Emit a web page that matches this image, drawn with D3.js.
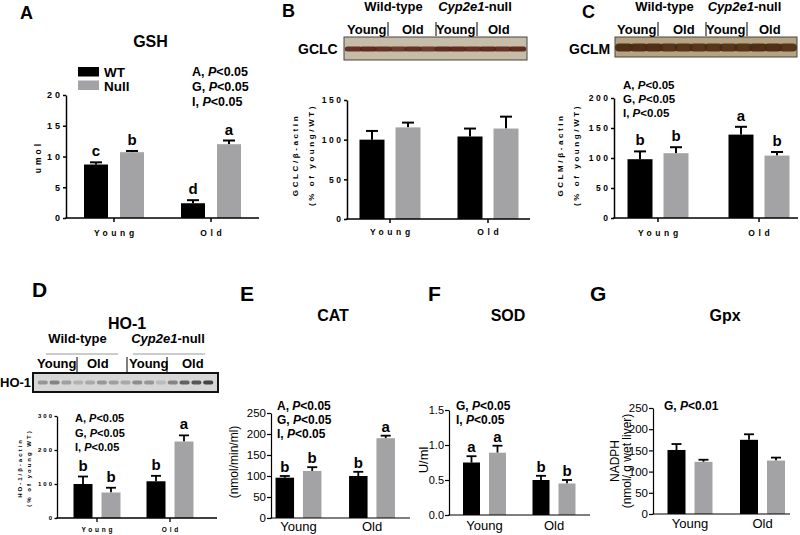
<!DOCTYPE html>
<html><head><meta charset="utf-8">
<script src="https://cdn.jsdelivr.net/npm/d3@7"></script>
<style>
body{margin:0;background:#fff}
svg{display:block}
text{font-family:Arial,"Liberation Sans",Helvetica,sans-serif}
</style>
</head><body>
<svg id="chart" width="800" height="535"></svg>
<script>
// ---------------- DATA ----------------
const groups = ["Young", "Old"];
const seriesNames = ["WT", "Null"];
const seriesColors = ["#000000", "#a3a3a5"];

// A: GSH (umol)
const gshWT = [8.7, 2.4], gshWTErr = [0.35, 0.5];
const gshNull = [10.7, 12.0], gshNullErr = [0.2, 0.6];
const gshLetters = [["c", "b"], ["d", "a"]];
const gshTicks = [0, 5, 10, 15, 20];
const gshStats = ["A, |P|<0.05", "G, |P|<0.05", "I, |P|<0.05"];

// B: GCLC/β-actin (% of young/WT)
const gclcWT = [100, 104], gclcWTErr = [11, 10];
const gclcNull = [115.5, 114], gclcNullErr = [6, 15];
const gclcTicks = [0, 50, 100, 150];

// C: GCLM/β-actin (% of young/WT)
const gclmWT = [98, 139], gclmWTErr = [13, 13];
const gclmNull = [108, 104], gclmNullErr = [10, 6];
const gclmLetters = [["b", "b"], ["a", "b"]];
const gclmTicks = [0, 50, 100, 150, 200];
const gclmStats = ["A, |P|<0.05", "G, |P|<0.05", "I, |P|<0.05"];

// D: HO-1/β-actin (% of young WT)
const ho1WT = [100, 108], ho1WTErr = [22, 16];
const ho1Null = [75, 225], ho1NullErr = [14, 18];
const ho1Letters = [["b", "b"], ["b", "a"]];
const ho1Ticks = [0, 100, 200, 300];
const ho1Stats = ["A, |P|<0.05", "G, |P|<0.05", "I, |P|<0.05"];

// E: CAT (nmol/min/ml)
const catWT = [96, 100], catWTErr = [4, 10];
const catNull = [112, 190], catNullErr = [9, 6];
const catLetters = [["b", "b"], ["b", "a"]];
const catTicks = [0, 50, 100, 150, 200, 250];
const catStats = ["A, |P|<0.05", "G, |P|<0.05", "I, |P|<0.05"];

// F: SOD (U/ml)
const sodWT = [0.75, 0.50], sodWTErr = [0.09, 0.06];
const sodNull = [0.89, 0.45], sodNullErr = [0.10, 0.05];
const sodLetters = [["a", "a"], ["b", "b"]];
const sodTicks = [0, 0.5, 1.0, 1.5];
const sodStats = ["G, |P|<0.05", "I, |P|<0.05"];

// G: Gpx (NADPH nmol/ g wet liver)
const gpxWT = [151, 175], gpxWTErr = [14, 13];
const gpxNull = [123, 126], gpxNullErr = [5, 7];
const gpxTicks = [0, 50, 100, 150, 200, 250];
const gpxStats = ["G, |P|<0.01"];

// Western blot lane intensities (decorative images)
const gclcLanes = [0.9, 0.95, 0.9, 0.85, 0.9, 0.85, 0.95, 0.95, 0.9, 0.95, 0.9, 0.95];
const gclmLanes = [0.95, 0.95, 0.95, 0.9, 0.9, 0.9, 0.9, 0.9, 0.9, 0.95, 0.95, 0.9];
const ho1Lanes = [0.35, 0.45, 0.3, 0.2, 0.25, 0.35, 0.3, 0.25, 0.4, 0.35, 0.15, 0.45, 0.65, 0.7, 0.8];

// ---------------- DRAW ----------------
const svg = d3.select("#chart");

function richText(sel, str) {
  str.split("|").forEach((part, i) => {
    sel.append("tspan").text(part).attr("font-style", i % 2 === 1 ? "italic" : "normal");
  });
}

function drawPanel(p) {
  const g = svg.append("g");
  const y = d3.scaleLinear().domain([0, p.max]).range([p.base, p.top]);
  const x = d3.scalePoint().domain(groups).range([p.c1, p.c2]);
  const xs = d3.scalePoint().domain(seriesNames).range([-p.off, p.off]);
  const data = [];
  groups.forEach((gr, gi) => seriesNames.forEach((s, si) => {
    data.push({gr, s, si, v: p.vals[si][gi], e: p.errs[si][gi],
      L: p.letters ? p.letters[gi][si] : null});
  }));
  const cx = d => x(d.gr) + xs(d.s);
  g.selectAll("line.eb").data(data).join("line")
    .attr("x1", cx).attr("x2", cx)
    .attr("y1", d => y(d.v)).attr("y2", d => y(d.v + d.e))
    .attr("stroke", "#000").attr("stroke-width", p.ew);
  g.selectAll("line.cap").data(data).join("line")
    .attr("x1", d => cx(d) - p.cap / 2).attr("x2", d => cx(d) + p.cap / 2)
    .attr("y1", d => y(d.v + d.e)).attr("y2", d => y(d.v + d.e))
    .attr("stroke", "#000").attr("stroke-width", p.ew);
  g.selectAll("rect.bar").data(data).join("rect")
    .attr("x", d => cx(d) - p.bw / 2).attr("y", d => y(d.v))
    .attr("width", p.bw).attr("height", d => y(0) - y(d.v))
    .attr("fill", d => seriesColors[d.si]);
  if (p.letters) {
    g.selectAll("text.let").data(data).join("text")
      .attr("x", cx).attr("y", d => y(d.v + d.e) - p.lgap)
      .attr("text-anchor", "middle").attr("font-weight", "bold")
      .attr("font-size", p.lfs).text(d => d.L);
  }
  const ya = d3.axisLeft(y).tickValues(p.ticks).tickSize(p.tick).tickSizeOuter(0)
    .tickFormat(p.fmt || d3.format("d"));
  const yg = g.append("g").attr("transform", `translate(${p.x0},0)`).call(ya);
  yg.select(".domain").attr("stroke-width", p.aw);
  yg.selectAll(".tick line").attr("stroke-width", p.aw);
  yg.selectAll(".tick text")
    .attr("font-size", p.tfs).attr("font-weight", p.prism ? "bold" : "normal")
    .attr("letter-spacing", p.prism ? p.ls : 0)
    .attr("fill", "#000")
    .attr("x", -(p.tick + p.tpad) + (p.prism ? p.ls : 0));
  yg.attr("font-family", null);
  g.append("line").attr("x1", p.x0 - p.aw / 2).attr("x2", p.x1)
    .attr("y1", p.base).attr("y2", p.base)
    .attr("stroke", "#000").attr("stroke-width", p.aw);
  if (p.prism) {
    g.selectAll("line.xt").data(groups).join("line")
      .attr("x1", d => x(d)).attr("x2", d => x(d))
      .attr("y1", p.base).attr("y2", p.base + 4)
      .attr("stroke", "#000").attr("stroke-width", p.aw);
  }
  g.selectAll("text.xl").data(groups).join("text")
    .attr("x", d => x(d) + (p.prism ? p.xls / 2 : 0)).attr("y", p.xly)
    .attr("text-anchor", "middle")
    .attr("font-size", p.xfs).attr("font-weight", p.prism ? "bold" : "normal")
    .attr("letter-spacing", p.prism ? p.xls : 0)
    .text(d => d);
  p.ylab.forEach((t, i) => {
    g.append("text")
      .attr("transform", `translate(${p.ylx[i]},${p.yly}) rotate(-90)`)
      .attr("text-anchor", "middle")
      .attr("font-size", p.yfs).attr("font-weight", p.prism ? "bold" : "normal")
      .attr("letter-spacing", p.prism ? p.yls : 0)
      .text(t);
  });
  if (p.stats) {
    p.stats.forEach((s, i) => {
      const t = g.append("text").attr("x", p.sx).attr("y", p.sy + i * p.sdy)
        .attr("font-size", p.sfs).attr("font-weight", "bold");
      richText(t, s);
    });
  }
  return {x, y};
}

function label(x, yy, t, fs, opts = {}) {
  const el = svg.append("text").attr("x", x).attr("y", yy)
    .attr("font-size", fs).attr("font-weight", opts.weight || "bold")
    .attr("text-anchor", opts.anchor || "start");
  if (opts.rich) richText(el, t); else el.text(t);
  return el;
}

function blot(o) {
  const g = svg.append("g");
  g.append("rect").attr("x", o.x).attr("y", o.y).attr("width", o.w).attr("height", o.h)
    .attr("fill", o.bg).attr("stroke", o.stroke).attr("stroke-width", o.sw);
  const lx = d3.scaleBand().domain(d3.range(o.lanes.length)).range([o.x + 3, o.x + o.w - 3]).padding(o.pad);
  g.selectAll("rect.lane").data(o.lanes).join("rect")
    .attr("x", (d, i) => lx(i)).attr("width", lx.bandwidth())
    .attr("y", o.by - o.bh / 2).attr("height", o.bh)
    .attr("rx", o.bh / 2)
    .attr("fill", o.band).attr("opacity", d => d);
  label(o.hx[0], o.hy, "Wild-type", 13, {anchor: "middle"});
  label(o.hx[1], o.hy, "|Cyp2e1|-null", 13, {anchor: "middle", rich: true});
  ["Young", "Old", "Young", "Old"].forEach((t, i) => label(o.lx[i], o.ly, t, 13));
  o.div.forEach(dx => g.append("line").attr("x1", dx).attr("x2", dx)
    .attr("y1", o.dy[0]).attr("y2", o.dy[1]).attr("stroke", "#000").attr("stroke-width", 1));
  label(o.nx, o.ny, o.name, o.nfs || 14);
}

// Panel A
label(20, 19, "A", 18);
label(150.5, 47, "GSH", 16, {anchor: "middle"});
svg.append("rect").attr("x", 78).attr("y", 67).attr("width", 21).attr("height", 9.5).attr("fill", seriesColors[0]);
svg.append("rect").attr("x", 78).attr("y", 80.5).attr("width", 21).attr("height", 9.5).attr("fill", seriesColors[1]);
label(104, 76.5, "WT", 13.5);
label(104, 91, "Null", 13.5);
drawPanel({vals: [gshWT, gshNull], errs: [gshWTErr, gshNullErr], letters: gshLetters,
  ticks: gshTicks, max: 20, base: 218, top: 95, x0: 66, x1: 259, c1: 114, c2: 211,
  off: 18, bw: 24, cap: 12, ew: 2, aw: 1.5, tick: 3, tpad: 3, tfs: 9, ls: 3, prism: true,
  lfs: 15, lgap: 6, xfs: 8.5, xls: 3.6, xly: 236,
  ylab: ["umol"], ylx: [41], yly: 157, yfs: 8.5, yls: 3,
  stats: gshStats, sx: 192, sy: 75.5, sdy: 15, sfs: 12.5});

// Panel B
label(282, 17, "B", 18);
blot({x: 344, y: 37, w: 183, h: 23, bg: "#c7bca7", stroke: "#444", sw: 1, lanes: gclcLanes,
  by: 49, bh: 5, band: "#5a2418", pad: -0.15,
  hx: [393.5, 475], hy: 10.5, lx: [347, 402, 436, 488], ly: 34,
  div: [388, 436, 477], dy: [22, 36], name: "GCLC", nx: 298, ny: 54});
drawPanel({vals: [gclcWT, gclcNull], errs: [gclcWTErr, gclcNullErr], letters: null,
  ticks: gclcTicks, max: 150, base: 219, top: 100, x0: 347, x1: 530, c1: 390, c2: 488,
  off: 18, bw: 25, cap: 12, ew: 2, aw: 1.5, tick: 3, tpad: 3, tfs: 8.5, ls: 2.5, prism: true,
  lfs: 15, lgap: 6, xfs: 8.5, xls: 3.6, xly: 235,
  ylab: ["GCLC/β-actin", "(% of young/WT)"], ylx: [298, 314], yly: 155, yfs: 8, yls: 2.6});

// Panel C
label(582, 18, "C", 18);
blot({x: 615, y: 37, w: 182, h: 20, bg: "#b5a383", stroke: "#444", sw: 1, lanes: gclmLanes,
  by: 47.5, bh: 8, band: "#4a2a10", pad: -0.2,
  hx: [664.5, 744.5], hy: 10.5, lx: [617, 673, 706, 759], ly: 34,
  div: [658, 706, 747], dy: [22, 36], name: "GCLM", nx: 569, ny: 54});
drawPanel({vals: [gclmWT, gclmNull], errs: [gclmWTErr, gclmNullErr], letters: gclmLetters,
  ticks: gclmTicks, max: 200, base: 218, top: 98, x0: 614, x1: 798, c1: 658, c2: 759,
  off: 18, bw: 25, cap: 12, ew: 2, aw: 1.5, tick: 3, tpad: 3, tfs: 8.5, ls: 2.5, prism: true,
  lfs: 15, lgap: 6, xfs: 8.5, xls: 3.6, xly: 236,
  ylab: ["GCLM/β-actin", "(% of young/WT)"], ylx: [563, 579], yly: 155, yfs: 8, yls: 2.6,
  stats: gclmStats, sx: 623, sy: 89, sdy: 14, sfs: 11.5});

// Panel D
label(32, 297, "D", 21);
label(127, 329, "HO-1", 16, {anchor: "middle"});
svg.append("line").attr("x1", 46).attr("x2", 118).attr("y1", 354).attr("y2", 354).attr("stroke", "#999").attr("stroke-width", 1);
svg.append("line").attr("x1", 133).attr("x2", 205).attr("y1", 354).attr("y2", 354).attr("stroke", "#999").attr("stroke-width", 1);
blot({x: 33, y: 373, w: 185, h: 19, bg: "#d6d6d6", stroke: "#111", sw: 2, lanes: ho1Lanes,
  by: 382.5, bh: 4, band: "#222", pad: 0.15,
  hx: [77.5, 168], hy: 343, lx: [37, 87, 129, 182], ly: 367.5,
  div: [77, 127, 167], dy: [357, 372], name: "HO-1", nx: 0, ny: 387, nfs: 13});
drawPanel({vals: [ho1WT, ho1Null], errs: [ho1WTErr, ho1NullErr], letters: ho1Letters,
  ticks: ho1Ticks, max: 300, base: 518, top: 416, x0: 57, x1: 217, c1: 97, c2: 170,
  off: 14, bw: 19, cap: 10, ew: 1.8, aw: 1.3, tick: 2.5, tpad: 2.5, tfs: 6, ls: 2, prism: true,
  lfs: 15, lgap: 6, xfs: 6.5, xls: 2.8, xly: 532,
  ylab: ["HO-1/β-actin", "(% of young WT)"], ylx: [22, 31], yly: 468, yfs: 6, yls: 2,
  stats: ho1Stats, sx: 75, sy: 422, sdy: 14.5, sfs: 11});

// Panel E
label(240, 301, "E", 21);
label(333, 321, "CAT", 16, {anchor: "middle"});
drawPanel({vals: [catWT, catNull], errs: [catWTErr, catNullErr], letters: catLetters,
  ticks: catTicks, max: 250, base: 518, top: 413, x0: 271, x1: 410, c1: 298.5, c2: 372,
  off: 13.7, bw: 18.5, cap: 10, ew: 1.8, aw: 1.2, tick: 4, tpad: 1, tfs: 11.5, prism: false,
  lfs: 15, lgap: 4, xfs: 13, xly: 531,
  ylab: ["(nmol/min/ml)"], ylx: [238], yly: 462, yfs: 12,
  stats: catStats, sx: 277, sy: 410, sdy: 14, sfs: 12});

// Panel F
label(428, 301, "F", 21);
label(508, 321, "SOD", 16, {anchor: "middle"});
drawPanel({vals: [sodWT, sodNull], errs: [sodWTErr, sodNullErr], letters: sodLetters,
  ticks: sodTicks, max: 1.5, base: 515, top: 410, x0: 449, x1: 590, c1: 484.5, c2: 554,
  off: 13, bw: 17, cap: 10, ew: 1.8, aw: 1.2, tick: 4, tpad: 1, tfs: 11, prism: false,
  fmt: d3.format(".1f"),
  lfs: 15, lgap: 4, xfs: 13, xly: 530,
  ylab: ["U/ml"], ylx: [428], yly: 460, yfs: 13,
  stats: sodStats, sx: 456, sy: 410, sdy: 14, sfs: 12});

// Panel G
label(590, 301, "G", 21);
label(725, 321, "Gpx", 16, {anchor: "middle"});
drawPanel({vals: [gpxWT, gpxNull], errs: [gpxWTErr, gpxNullErr], letters: null,
  ticks: gpxTicks, max: 250, base: 514, top: 408, x0: 653, x1: 790, c1: 690, c2: 762.5,
  off: 13.5, bw: 18, cap: 10, ew: 1.8, aw: 1.2, tick: 4, tpad: 1, tfs: 11.5, prism: false,
  lfs: 15, lgap: 4, xfs: 13, xly: 528,
  ylab: ["NADPH", "(nmol/ g wet liver)"], ylx: [619, 631], yly: 461, yfs: 12,
  stats: gpxStats, sx: 664, sy: 410, sdy: 14, sfs: 12});
</script>
</body></html>
